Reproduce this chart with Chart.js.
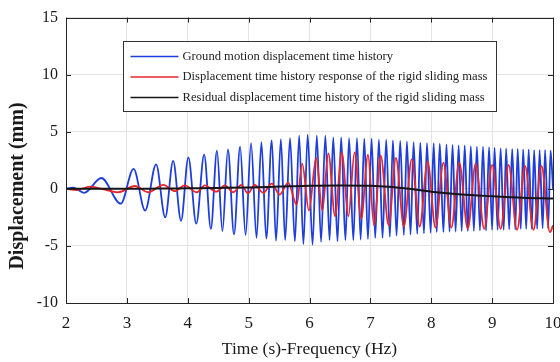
<!DOCTYPE html>
<html>
<head>
<meta charset="utf-8">
<script src="https://cdn.jsdelivr.net/npm/chart.js@4.4.1/dist/chart.umd.min.js"></script>
<style>
  html, body { margin: 0; padding: 0; background: #fff; }
  canvas { display: block; }
</style>
</head>
<body>
<canvas id="dispChart" width="560" height="362"></canvas>
<script>
const seriesNames = [
    'Ground motion displacement time history',
    'Displacement time history response of the rigid sliding mass',
    'Residual displacement time history of the rigid sliding mass'
];
const yTitle = 'Displacement (mm)';
const xTicks = [2, 3, 4, 5, 6, 7, 8, 9, 10];
const yTicks = [-10, -5, 0, 5, 10, 15];

// ground motion: turning points (time s, displacement mm)
const groundT = [
    2.00, 2.12, 2.30, 2.58, 2.90, 3.11, 3.30, 3.48, 3.63, 3.76,
    3.89, 4.01, 4.14, 4.27, 4.38, 4.48, 4.57, 4.66, 4.76, 4.86,
    4.95, 5.04, 5.13, 5.21, 5.29, 5.38, 5.45, 5.53, 5.60, 5.68,
    5.76, 5.83, 5.90, 5.97, 6.05, 6.12, 6.19, 6.26, 6.33, 6.39,
    6.46, 6.52, 6.59, 6.65, 6.72, 6.78, 6.84, 6.90, 6.96, 7.02,
    7.08, 7.14, 7.20, 7.26, 7.32, 7.37, 7.43, 7.49, 7.55, 7.60,
    7.66, 7.71, 7.77, 7.82, 7.88, 7.93, 7.99, 8.04, 8.09, 8.14,
    8.20, 8.25, 8.30, 8.35, 8.40, 8.45, 8.50, 8.55, 8.60, 8.65,
    8.70, 8.75, 8.80, 8.85, 8.90, 8.95, 9.00, 9.04, 9.09, 9.14,
    9.19, 9.23, 9.28, 9.33, 9.38, 9.42, 9.47, 9.51, 9.56, 9.60,
    9.65, 9.69, 9.74, 9.78, 9.83, 9.87, 9.92, 9.96, 10.00
];
const groundD = [
    0.00, 0.10, -0.35, 0.95, -1.30, 1.75, -1.90, 2.15, -2.50, 2.45,
    -2.80, 2.75, -3.05, 3.00, -3.50, 3.35, -3.70, 3.45, -4.00, 3.70,
    -4.05, 4.00, -4.30, 4.10, -4.35, 4.25, -4.55, 4.35, -4.50, 4.45,
    -4.60, 4.65, -4.85, 4.75, -4.90, 4.65, -4.65, 4.65, -4.50, 4.50,
    -4.60, 4.50, -4.50, 4.45, -4.50, 4.45, -4.45, 4.40, -4.40, 4.40,
    -4.30, 4.30, -4.30, 4.30, -4.20, 4.25, -4.10, 4.20, -4.05, 4.15,
    -4.00, 4.10, -3.95, 4.05, -3.90, 4.00, -3.85, 4.00, -3.80, 3.95,
    -3.80, 3.90, -3.75, 3.85, -3.75, 3.80, -3.70, 3.80, -3.70, 3.75,
    -3.70, 3.70, -3.65, 3.70, -3.65, 3.65, -3.60, 3.60, -3.60, 3.55,
    -3.60, 3.55, -3.55, 3.50, -3.55, 3.50, -3.50, 3.45, -3.50, 3.45,
    -3.50, 3.40, -3.50, 3.40, -3.45, 3.40, -3.45, 3.35, 0.00
];

// sliding mass response: turning points
const massT = [
    2.00, 2.18, 2.39, 2.86, 3.13, 3.35, 3.60, 3.79, 3.95, 4.15,
    4.28, 4.47, 4.61, 4.75, 4.88, 4.99, 5.10, 5.24, 5.38, 5.51,
    5.65, 5.79, 5.88, 5.99, 6.11, 6.21, 6.31, 6.42, 6.53, 6.64,
    6.74, 6.85, 6.96, 7.06, 7.17, 7.30, 7.42, 7.55, 7.68, 7.81,
    7.94, 8.07, 8.20, 8.33, 8.46, 8.60, 8.73, 8.87, 9.00, 9.14,
    9.27, 9.41, 9.54, 9.68, 9.81, 9.95, 10.00
];
const massD = [
    0.00, -0.10, 0.20, -0.30, 0.25, -0.30, 0.35, -0.20, 0.30, -0.30,
    0.30, -0.25, 0.30, -0.30, 0.35, -0.40, 0.35, -0.35, 0.45, -0.50,
    0.55, -1.40, 2.20, -1.90, 2.70, -1.90, 3.10, -2.40, 3.20, -2.40,
    3.20, -2.60, 3.00, -3.20, 2.90, -3.20, 2.70, -3.30, 2.60, -3.30,
    2.40, -3.40, 2.30, -3.40, 2.30, -3.50, 2.20, -3.50, 2.10, -3.50,
    2.10, -3.60, 2.00, -3.60, 2.00, -3.80, -3.20
];

// residual displacement
const residT = [2.0, 2.5, 3.0, 3.5, 4.0, 4.5, 5.0, 5.5, 6.0, 6.5, 7.0, 7.3, 7.6, 8.0, 8.5, 9.0, 9.5, 10.0];
const residD = [0.0, 0.0, 0.0, 0.02, 0.05, 0.08, 0.12, 0.2, 0.28, 0.3, 0.27, 0.18, 0.02, -0.25, -0.5, -0.65, -0.78, -0.85];

const colors = ['#1d3ddc', '#e8262b', '#141414'];

function toPoints(ts, ds) {
    return ts.map((t, i) => ({ x: t, y: ds[i] }));
}

const serif = '"Liberation Serif", "Times New Roman", serif';

// box, inward ticks, y label and a legend inside the axes (matlab look)
const frame = {
    id: 'frame',
    afterDatasetsDraw(chart) {
        const { ctx, chartArea: a, scales: { x, y } } = chart;
        ctx.save();
        ctx.strokeStyle = '#262626';
        ctx.lineWidth = 1;
        ctx.beginPath();
        xTicks.forEach(v => {
            const px = Math.round(x.getPixelForValue(v)) + 0.5;
            ctx.moveTo(px, a.bottom); ctx.lineTo(px, a.bottom - 5);
            ctx.moveTo(px, a.top); ctx.lineTo(px, a.top + 5);
        });
        yTicks.forEach(v => {
            const py = Math.round(y.getPixelForValue(v)) + 0.5;
            ctx.moveTo(a.left, py); ctx.lineTo(a.left + 5, py);
            ctx.moveTo(a.right, py); ctx.lineTo(a.right - 5, py);
        });
        ctx.stroke();
        ctx.strokeRect(Math.round(a.left) + 0.5, Math.round(a.top) + 0.5,
            Math.round(a.right - a.left), Math.round(a.bottom - a.top));

        // y label sits a bit below the axes centre in the original
        ctx.save();
        ctx.translate(18, a.top + (a.bottom - a.top) * 0.59);
        ctx.rotate(-Math.PI / 2);
        ctx.font = 'bold 20px ' + serif;
        ctx.fillStyle = '#1a1a1a';
        ctx.textAlign = 'center';
        ctx.textBaseline = 'middle';
        ctx.fillText(yTitle, 0, 0);
        ctx.restore();

        // legend
        const bx = Math.round(a.left + 57) + 0.5, by = Math.round(a.top + 23) + 0.5;
        const bw = 373, bh = 70;
        ctx.fillStyle = '#fff';
        ctx.fillRect(bx, by, bw, bh);
        ctx.strokeStyle = '#333';
        ctx.strokeRect(bx, by, bw, bh);
        ctx.font = '12.6px ' + serif;
        ctx.textBaseline = 'middle';
        chart.data.datasets.forEach((ds, i) => {
            const ly = by + 15 + i * 20.5;
            ctx.strokeStyle = ds.borderColor;
            ctx.lineWidth = 1.3;
            ctx.beginPath();
            ctx.moveTo(bx + 7, ly); ctx.lineTo(bx + 55, ly);
            ctx.stroke();
            ctx.fillStyle = '#222';
            ctx.fillText(ds.label, bx + 59, ly);
        });
        ctx.restore();
    }
};

new Chart(document.getElementById('dispChart'), {
    type: 'line',
    data: {
        datasets: [
            { label: seriesNames[0], data: toPoints(groundT, groundD), borderColor: colors[0], borderWidth: 1.8, order: 3 },
            { label: seriesNames[1], data: toPoints(massT, massD), borderColor: colors[1], borderWidth: 1.8, order: 2 },
            { label: seriesNames[2], data: toPoints(residT, residD), borderColor: colors[2], borderWidth: 2, order: 1 }
        ]
    },
    options: {
        responsive: false,
        animation: false,
        devicePixelRatio: 1,
        layout: { padding: { top: 5, right: 7, bottom: 0, left: 0 } },
        elements: {
            point: { radius: 0 },
            line: { cubicInterpolationMode: 'monotone', fill: false }
        },
        plugins: { legend: { display: false }, tooltip: { enabled: false } },
        scales: {
            x: {
                type: 'linear',
                min: 2, max: 10,
                afterFit(s) { s.height = 59; s.paddingRight = 0; },
                afterBuildTicks(s) { s.ticks = xTicks.map(v => ({ value: v })); },
                ticks: { color: '#1a1a1a', padding: 10, maxRotation: 0, font: { family: serif, size: 17 } },
                grid: { color: '#e4e4e4', drawTicks: false },
                border: { display: false },
                title: { display: true, text: 'Time (s)-Frequency (Hz)', color: '#1a1a1a',
                         padding: { top: 0, bottom: 2 }, font: { family: serif, size: 17.5 } }
            },
            y: {
                min: -10, max: 15,
                afterFit(s) { s.width = 66; },
                afterBuildTicks(s) { s.ticks = yTicks.map(v => ({ value: v })); },
                ticks: { color: '#1a1a1a', padding: 8, font: { family: serif, size: 16 } },
                grid: { color: '#e4e4e4', drawTicks: false },
                border: { display: false },
                title: { display: false }
            }
        }
    },
    plugins: [frame]
});
</script>
</body>
</html>
